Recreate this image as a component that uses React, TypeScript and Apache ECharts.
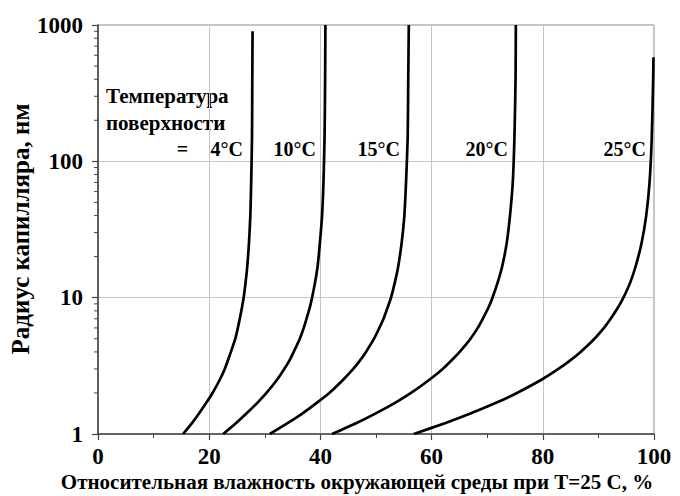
import React, { useEffect, useRef } from "react";
import * as echarts from "echarts";

// Capillary radius, nm (shared sample points); the last point of each curve uses endRadius
const radiusNm = [1, 1.2, 1.4, 1.7, 2, 2.5, 3, 3.5, 4, 5, 6, 7, 8.5, 10, 13, 17, 25, 40, 70, 150, 400];
const endRadius = [900, 1000, 1000, 1000, 580];
const curveLabels = ["4°C", "10°C", "15°C", "20°C", "25°C"];

// Relative humidity (%) read for each radius; the last value is at endRadius
const rh4 = [15.3, 16.9, 18.1, 19.5, 20.6, 21.9, 22.8, 23.4, 23.9, 24.7, 25.15, 25.5, 25.9, 26.2, 26.55, 26.85, 27.15, 27.4, 27.55, 27.7, 27.75, 27.8];
const rh10 = [22.5, 24.8, 26.6, 28.7, 30.3, 32.2, 33.5, 34.5, 35.2, 36.3, 37.0, 37.5, 38.1, 38.5, 39.05, 39.5, 39.9, 40.3, 40.55, 40.75, 40.85, 40.9];
const rh15 = [30.9, 34.1, 36.6, 39.4, 41.6, 44.1, 45.9, 47.2, 48.2, 49.65, 50.6, 51.35, 52.1, 52.7, 53.4, 54.0, 54.6, 55.1, 55.4, 55.7, 55.8, 55.9];
const rh20 = [42.1, 46.4, 49.7, 53.5, 56.3, 59.6, 62.0, 63.7, 65.05, 67.0, 68.3, 69.2, 70.25, 70.95, 71.9, 72.7, 73.5, 74.1, 74.6, 74.9, 75.1, 75.15];
const rh25 = [56.8, 62.4, 66.75, 71.7, 75.35, 79.75, 82.8, 85.05, 86.8, 89.3, 91.0, 92.2, 93.55, 94.5, 95.75, 96.7, 97.75, 98.6, 99.2, 99.6, 99.85, 99.9];

const xTicks = [0, 20, 40, 60, 80, 100];
const yTicks = [1, 10, 100, 1000];
const yMinorTicks = [2, 3, 4, 5, 6, 7, 8, 9, 20, 30, 40, 50, 60, 70, 80, 90, 200, 300, 400, 500, 600, 700, 800, 900];

const FONT = "Liberation Serif";

function buildSeries(rh: number[], idx: number) {
  const pts: number[][] = rh.map((v, i) => [v, i < radiusNm.length ? radiusNm[i] : endRadius[idx]]);
  return {
    type: "line",
    name: curveLabels[idx],
    data: pts,
    smooth: 0.2,
    symbol: "none",
    lineStyle: { color: "#000", width: 2.7 },
    z: 5,
  };
}

export default function App() {
  const ref = useRef<HTMLDivElement>(null);
  useEffect(() => {
    if (!ref.current) return;
    const chart = echarts.init(ref.current, null, { renderer: "svg" });
    const textStyleBase = { fontFamily: FONT, fontWeight: "bold", fill: "#000" };
    const labelRight = [243, 316, 400, 508, 646];
    chart.setOption({
      animation: false,
      backgroundColor: "#fff",
      grid: {
        left: 98,
        right: 26,
        top: 25,
        bottom: 62,
        show: true,
        borderColor: "#8a8a8a",
        borderWidth: 1,
      },
      xAxis: {
        type: "value",
        min: xTicks[0],
        max: xTicks[xTicks.length - 1],
        interval: 20,
        axisLine: { show: true, lineStyle: { color: "#444", width: 1.6 } },
        axisTick: { show: true, length: 6, lineStyle: { color: "#444", width: 1.2 } },
        minorTick: { show: true, splitNumber: 2, length: 4, lineStyle: { color: "#444", width: 1 } },
        splitLine: { show: true, lineStyle: { color: "#c8c4c8", width: 1 } },
        axisLabel: {
          fontFamily: FONT,
          fontWeight: "bold",
          fontSize: 23,
          color: "#000",
          margin: 11,
        },
      },
      yAxis: {
        type: "log",
        logBase: 10,
        min: yTicks[0],
        max: yTicks[yTicks.length - 1],
        axisLine: { show: true, lineStyle: { color: "#444", width: 1.6 } },
        axisTick: { show: true, length: 6, lineStyle: { color: "#444", width: 1.2 } },
        splitLine: { show: true, lineStyle: { color: "#c8c4c8", width: 1 } },
        axisLabel: {
          fontFamily: FONT,
          fontWeight: "bold",
          fontSize: 23,
          color: "#000",
          margin: 15,
          formatter: (v: number) => String(Math.round(v)),
        },
      },
      series: [
        buildSeries(rh4, 0),
        buildSeries(rh10, 1),
        buildSeries(rh15, 2),
        buildSeries(rh20, 3),
        buildSeries(rh25, 4),
        {
          type: "custom",
          clip: false,
          silent: true,
          data: yMinorTicks.map((v) => [xTicks[0], v]),
          encode: { x: 0, y: 1 },
          renderItem: (params: any, api: any) => {
            const p = api.coord([api.value(0), api.value(1)]);
            return {
              type: "line",
              shape: { x1: p[0] - 4, y1: p[1], x2: p[0], y2: p[1] },
              style: { stroke: "#444", lineWidth: 1 },
            };
          },
          z: 6,
        },
      ],
      graphic: [
        {
          type: "text",
          x: 20,
          y: 229,
          rotation: Math.PI / 2,
          style: { ...textStyleBase, text: "Радиус капилляра, нм", fontSize: 25, align: "center", verticalAlign: "middle" },
        },
        {
          type: "text",
          x: 357,
          y: 482,
          style: {
            ...textStyleBase,
            text: "Относительная влажность окружающей среды при T=25 C, %",
            fontSize: 21,
            align: "center",
            verticalAlign: "middle",
          },
        },
        {
          type: "text",
          x: 106,
          y: 95.5,
          style: { ...textStyleBase, text: "Температура", fontSize: 21, align: "left", verticalAlign: "middle" },
        },
        {
          type: "text",
          x: 106,
          y: 122.5,
          style: { ...textStyleBase, text: "поверхности", fontSize: 21, align: "left", verticalAlign: "middle" },
        },
        {
          type: "text",
          x: 182.5,
          y: 149,
          style: { ...textStyleBase, text: "=", fontSize: 20, align: "center", verticalAlign: "middle" },
        },
        ...curveLabels.map((t, i) => ({
          type: "text",
          x: labelRight[i],
          y: 148.5,
          style: { ...textStyleBase, text: t, fontSize: 20, align: "right", verticalAlign: "middle" },
        })),
      ],
    });
    return () => chart.dispose();
  }, []);
  return <div ref={ref} style={{ width: 680, height: 496, position: "absolute", left: 0, top: 0 }} />;
}
